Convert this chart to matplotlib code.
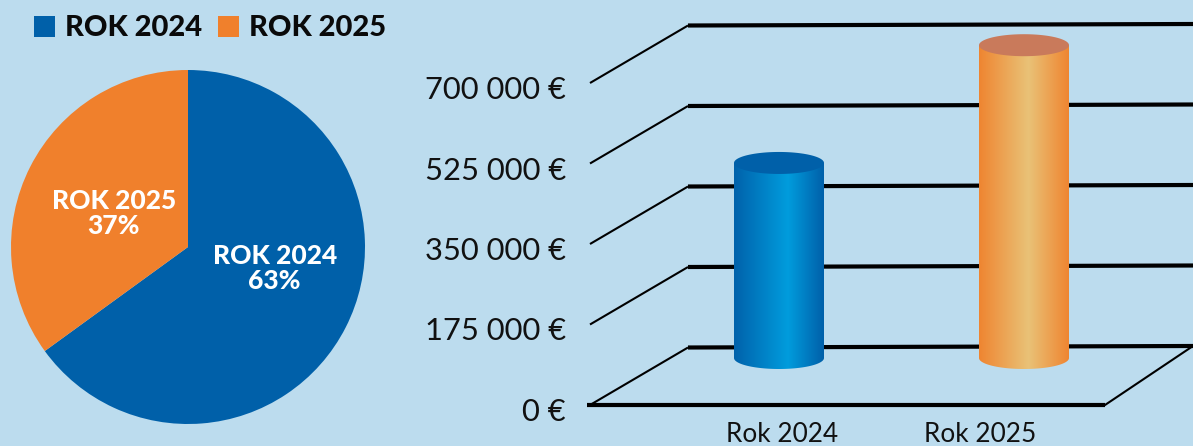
import numpy as np
import matplotlib
matplotlib.use('Agg')
import matplotlib.pyplot as plt
from matplotlib.patches import Rectangle, PathPatch
from matplotlib.path import Path
from matplotlib.colors import LinearSegmentedColormap

W, H = 1193, 446
BG = '#bcdcee'
BLUE = '#0060a9'
ORANGE = '#f0802c'

# data
categories = ['Rok 2024', 'Rok 2025']
bar_values = [424000, 680000]
grid_values = [0, 175000, 350000, 525000, 700000]
tick_labels = ['0 €', '175 000 €', '350 000 €', '525 000 €', '700 000 €']
pie_labels = ['ROK 2024\n63%', 'ROK 2025\n37%']
pie_shares = [65.0, 35.0]  # jak je narysowane na obrazku
legend_labels = ['ROK 2024', 'ROK 2025']

plt.rcParams['font.family'] = ['Lato', 'DejaVu Sans']

fig = plt.figure(figsize=(W / 100, H / 100), dpi=100, facecolor=BG)

# wykres kolowy
ax_pie = fig.add_axes([11 / W, 22 / H, 354 / W, 354 / H])
ax_pie.pie(pie_shares, colors=[BLUE, ORANGE], startangle=90, counterclock=False, radius=1)
ax_pie.set_xlim(-1, 1)
ax_pie.set_ylim(-1, 1)
ax_pie.text(0.49, -0.12, pie_labels[0], color='white', fontsize=19, fontweight='black',
            ha='center', va='center', linespacing=1.05)
ax_pie.text(-0.42, 0.19, pie_labels[1], color='white', fontsize=19, fontweight='black',
            ha='center', va='center', linespacing=1.05)

# os x w pikselach, os y w euro
PX = 700000 / 322
ax = fig.add_axes([0, 0, 1, 1], facecolor='none')
ax.set_xlim(0, W)
ax.set_ylim(-(H - 405) * PX, 405 * PX)
ax.axis('off')

left, back_left, front_right = 590, 688, 1105
depth = 57.5 * PX
for v, lab in zip(grid_values, tick_labels):
    ax.plot([left, back_left], [v, v + depth], color='black', lw=1.5, solid_capstyle='butt', zorder=1)
    ax.plot([back_left, W], [v + depth, v + depth + 1.5 * PX], color='black', lw=3, solid_capstyle='butt', zorder=1)
    ax.text(566, v - 7 * PX, lab, ha='right', va='center', fontsize=22.2, color='#111111')

# podloga
ax.plot([left - 3, front_right], [0, 0], color='black', lw=3, solid_capstyle='butt', zorder=1)
ax.plot([front_right, W], [0, 59 * PX], color='black', lw=1.5, zorder=1)

# walce
base = 47 * PX
ry = 11 * PX
rx = 45
bar_x = [779, 1024]
cmaps = [
    LinearSegmentedColormap.from_list('b', [(0, '#0062ab'), (0.6, '#009cdd'), (1, '#0060a9')]),
    LinearSegmentedColormap.from_list('o', [(0, '#ef8531'), (0.55, '#e9c277'), (1, '#ef8531')]),
]
caps = ['#0060a9', '#c97a5b']
t = np.linspace(0, np.pi, 60)
grad = np.linspace(0, 1, 256).reshape(1, -1)
for xc, v, cm, cap, lab in zip(bar_x, bar_values, cmaps, caps, categories):
    top = base + v
    xs = np.concatenate([[xc - rx], xc - rx * np.cos(t), [xc + rx]])
    ys = np.concatenate([[top], base - ry * np.sin(t), [top]])
    verts = np.column_stack([xs, ys])
    clip = PathPatch(Path(np.vstack([verts, verts[0]])), transform=ax.transData, facecolor='none', edgecolor='none')
    ax.add_patch(clip)
    im = ax.imshow(grad, cmap=cm, extent=[xc - rx, xc + rx, base - ry, top], aspect='auto', zorder=2)
    im.set_clip_path(clip)
    tt = np.linspace(0, 2 * np.pi, 120)
    ax.fill(xc + rx * np.cos(tt), top + ry * np.sin(tt), color=cap, zorder=3, lw=0)
    ax.set_xlim(0, W)
    ax.set_ylim(-(H - 405) * PX, 405 * PX)

ax.text(782, -29 * PX, categories[0], ha='center', va='center', fontsize=18.8, color='#111111')
ax.text(980, -29 * PX, categories[1], ha='center', va='center', fontsize=18.8, color='#111111')

# legenda
for x0, col, lab in zip([34, 218], [BLUE, ORANGE], legend_labels):
    fig.add_artist(Rectangle((x0 / W, 1 - 37 / H), 21 / W, 21 / H, transform=fig.transFigure, facecolor=col, edgecolor='none'))
    fig.text((x0 + 31) / W, 1 - 28 / H, lab, fontsize=21, fontweight='black', color='#0a0a0a', ha='left', va='center')

fig.savefig('out.png', dpi=100, facecolor=BG)
